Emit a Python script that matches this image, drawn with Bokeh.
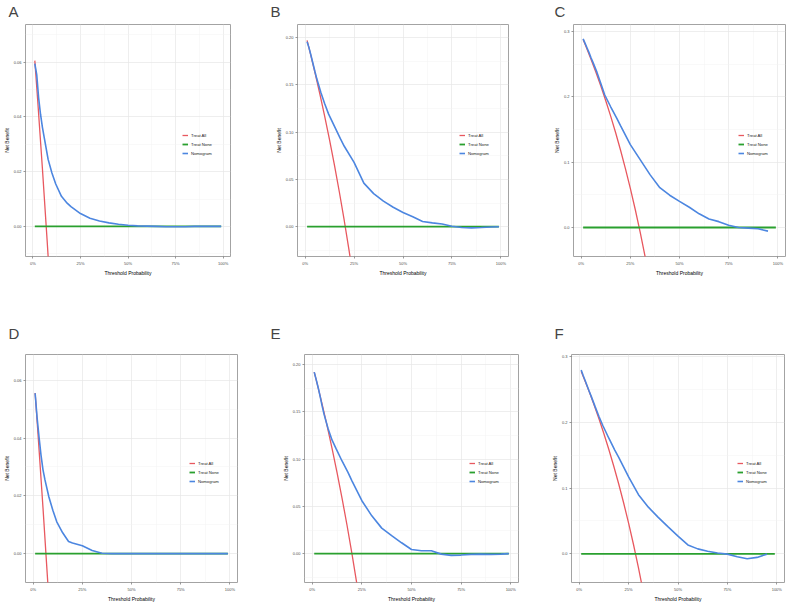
from bokeh.plotting import figure
from bokeh.models import Range1d, FixedTicker, Legend, LegendItem
from bokeh.layouts import column, row
from bokeh.embed import file_html
from bokeh.resources import INLINE

# ---------------- data ----------------
panel_letters = ["A", "B", "C", "D", "E", "F"]
series_names = ["Treat All", "Treat None", "Nomogram"]
x_ticks = [0, 0.25, 0.5, 0.75, 1.0]
x_tick_labels = ["0%", "25%", "50%", "75%", "100%"]
x_title = "Threshold Probability"
y_title = "Net Benefit"

thresholds = [0.01, 0.02, 0.03, 0.04, 0.05, 0.06, 0.08, 0.10, 0.12, 0.15, 0.18, 0.20,
              0.25, 0.30, 0.35, 0.40, 0.45, 0.50, 0.55, 0.60, 0.65, 0.70, 0.75, 0.80,
              0.85, 0.90, 0.95, 0.99]
thresholds_short = thresholds[:-1]   # panels C and F stop at 0.95

nomogram_A = [0.0595, 0.0555, 0.0470, 0.0410, 0.0362, 0.0323, 0.0245, 0.0195, 0.0155, 0.0110,
              0.0085, 0.0072, 0.0047, 0.0030, 0.0020, 0.0013, 0.0008, 0.0004, 0.0002, 0.0001,
              0.0, -0.0001, -0.0001, -0.0001, 0.0, 0.0, 0.0, 0.0]
nomogram_B = [0.1955, 0.189, 0.181, 0.1725, 0.164, 0.156, 0.142, 0.130, 0.119, 0.106,
              0.093, 0.085, 0.068, 0.046, 0.035, 0.027, 0.0205, 0.0150, 0.0105, 0.0055,
              0.0040, 0.0028, 0.0005, -0.0008, -0.0012, -0.0008, -0.0003, 0.0]
nomogram_C = [0.289, 0.282, 0.275, 0.268, 0.260, 0.253, 0.238, 0.2205, 0.203, 0.185,
              0.168, 0.156, 0.127, 0.104, 0.081, 0.061, 0.0495, 0.040, 0.031, 0.021,
              0.013, 0.009, 0.0035, 0.0, -0.001, -0.002, -0.0055]
nomogram_D = [0.0555, 0.0470, 0.0402, 0.0340, 0.0290, 0.0255, 0.0196, 0.0150, 0.0110, 0.0072,
              0.0042, 0.0037, 0.0027, 0.0011, 0.0001, 0.0, 0.0, 0.0, 0.0, 0.0,
              0.0, 0.0, 0.0, 0.0, 0.0, 0.0, 0.0, 0.0]
nomogram_E = [0.192, 0.184, 0.1755, 0.166, 0.156, 0.147, 0.132, 0.120, 0.111, 0.098,
              0.086, 0.077, 0.056, 0.040, 0.027, 0.019, 0.0115, 0.0044, 0.0030, 0.0030,
              -0.0005, -0.0018, -0.0015, -0.0008, -0.0005, -0.0008, -0.0005, 0.0]
nomogram_F = [0.280, 0.2715, 0.264, 0.256, 0.248, 0.2405, 0.2245, 0.209, 0.195, 0.176,
              0.158, 0.147, 0.117, 0.090, 0.071, 0.0555, 0.041, 0.027, 0.0135, 0.0075,
              0.0040, 0.0012, -0.0005, -0.0045, -0.0075, -0.0055, -0.0005]

treat_all_thresholds = [0.01, 0.025, 0.05, 0.075, 0.10, 0.125, 0.15, 0.175, 0.20, 0.225,
                        0.25, 0.275, 0.30, 0.325, 0.35]
treat_all_A = [0.0606, 0.0462, 0.0211, -0.0054, -0.0333, -0.0629, -0.0941, -0.1273, -0.1625,
               -0.2000, -0.2400, -0.2828, -0.3286, -0.3778, -0.4308]
treat_all_B = [0.1970, 0.1846, 0.1632, 0.1405, 0.1167, 0.0914, 0.0647, 0.0364, 0.0063,
               -0.0258, -0.0600, -0.0966, -0.1357, -0.1778, -0.2231]
treat_all_C = [0.2879, 0.2769, 0.2579, 0.2378, 0.2167, 0.1943, 0.1706, 0.1455, 0.1188,
               0.0903, 0.0600, 0.0276, -0.0071, -0.0444, -0.0846]
treat_all_D = [0.0556, 0.0410, 0.0158, -0.0108, -0.0389, -0.0686, -0.1000, -0.1333, -0.1688,
               -0.2065, -0.2467, -0.2897, -0.3357, -0.3852, -0.4385]
treat_all_E = [0.1919, 0.1795, 0.1579, 0.1351, 0.1111, 0.0857, 0.0588, 0.0303, 0.0,
               -0.0323, -0.0667, -0.1034, -0.1429, -0.1852, -0.2308]
treat_all_F = [0.2778, 0.2667, 0.2474, 0.2270, 0.2056, 0.1829, 0.1588, 0.1333, 0.1063,
               0.0774, 0.0467, 0.0138, -0.0214, -0.0593, -0.1000]

treat_none_thresholds = [0.01, 0.99]
treat_none_nb = [0.0, 0.0]

y_ticks_small = [0.0, 0.02, 0.04, 0.06]
y_labels_small = ["0.00", "0.02", "0.04", "0.06"]
y_ticks_mid = [0.0, 0.05, 0.10, 0.15, 0.20]
y_labels_mid = ["0.00", "0.05", "0.10", "0.15", "0.20"]
y_ticks_big = [0.0, 0.1, 0.2, 0.3]
y_labels_big = ["0.0", "0.1", "0.2", "0.3"]

# ---------------- style ----------------
FONT = "Liberation Sans"
RED = "#E8585F"
GREEN = "#2AA02F"
BLUE = "#4C86E0"


def minor_between(ticks, lo, hi):
    step = ticks[1] - ticks[0]
    out = []
    v = ticks[0] - step / 2
    while v >= lo:
        out.append(v)
        v -= step
    v = ticks[0] + step / 2
    while v <= hi:
        out.append(v)
        v += step
    return out


def make_panel(letter, thr, nomo, treat_all, yticks, ylabels, yr, width, height,
               bl, br, bt, bb, title_offset, title_standoff, legend_xy):
    p = figure(width=width, height=height, output_backend="svg", toolbar_location=None,
               x_range=Range1d(-0.039, 1.039), y_range=Range1d(*yr),
               min_border_left=bl, min_border_right=br, min_border_top=bt,
               min_border_bottom=bb, background_fill_color="white",
               border_fill_color="white")
    p.title.text = letter
    p.title.text_font = FONT
    p.title.text_font_size = "15px"
    p.title.text_font_style = "normal"
    p.title.align = "left"
    p.title.vertical_align = "top"
    p.title.offset = title_offset
    p.title.standoff = title_standoff

    p.outline_line_color = "#A3A3A3"
    p.outline_line_width = 1

    p.xaxis.ticker = FixedTicker(ticks=x_ticks, minor_ticks=minor_between(x_ticks, -0.039, 1.039))
    p.xaxis.major_label_overrides = {t: l for t, l in zip(x_ticks, x_tick_labels)}
    p.yaxis.ticker = FixedTicker(ticks=yticks, minor_ticks=minor_between(yticks, yr[0], yr[1]))
    p.yaxis.major_label_overrides = {t: l for t, l in zip(yticks, ylabels)}
    p.xaxis.axis_label = x_title
    p.yaxis.axis_label = y_title
    for ax in (p.xaxis, p.yaxis):
        ax.axis_line_color = None
        ax.major_tick_line_color = "#555555"
        ax.major_tick_line_width = 0.6
        ax.major_tick_out = 2
        ax.major_tick_in = 0
        ax.minor_tick_line_color = None
        ax.major_label_text_font = FONT
        ax.major_label_text_font_size = "4px"
        ax.major_label_text_color = "#4D4D4D"
        ax.major_label_standoff = 0
        ax.axis_label_text_font = FONT
        ax.axis_label_text_font_size = "5px"
        ax.axis_label_text_font_style = "normal"
        ax.axis_label_text_color = "#000000"
        ax.axis_label_standoff = 1
    for g in (p.xgrid, p.ygrid):
        g.grid_line_color = "#E6E6E6"
        g.grid_line_width = 0.7
        g.minor_grid_line_color = "#F2F2F2"
        g.minor_grid_line_width = 0.5

    r_all = p.line(treat_all_thresholds, treat_all, line_color=RED, line_width=1.3)
    r_none = p.line(treat_none_thresholds, treat_none_nb, line_color=GREEN, line_width=1.8)
    r_nomo = p.line(thr, nomo, line_color=BLUE, line_width=1.6)

    legend = Legend(items=[LegendItem(label=series_names[0], renderers=[r_all]),
                           LegendItem(label=series_names[1], renderers=[r_none]),
                           LegendItem(label=series_names[2], renderers=[r_nomo])],
                    location=legend_xy)
    legend.label_text_font = FONT
    legend.label_text_font_size = "4.2px"
    legend.label_text_color = "#222222"
    legend.glyph_width = 6
    legend.glyph_height = 6
    legend.label_height = 6
    legend.label_width = 10
    legend.label_standoff = 3
    legend.spacing = 3
    legend.padding = 0
    legend.margin = 0
    legend.border_line_color = None
    legend.background_fill_alpha = 0
    p.add_layout(legend)
    return p


TOP_H, BOT_H = 310, 294

pA = make_panel(panel_letters[0], thresholds, nomogram_A, treat_all_A, y_ticks_small, y_labels_small,
                (-0.011, 0.0738), 258, TOP_H, 19, 28, 23, 54, -17, 5, (157, 100))
pB = make_panel(panel_letters[1], thresholds, nomogram_B, treat_all_B, y_ticks_mid, y_labels_mid,
                (-0.0315, 0.2137), 264, TOP_H, 39, 14, 23, 54, -27, 5, (162, 100))
pC = make_panel(panel_letters[2], thresholds_short, nomogram_C, treat_all_C, y_ticks_big, y_labels_big,
                (-0.0444, 0.311), 264, TOP_H, 51, 1, 23, 54, -19, 5, (165, 100))
pD = make_panel(panel_letters[3], thresholds, nomogram_D, treat_all_D, y_ticks_small, y_labels_small,
                (-0.010, 0.0689), 260, BOT_H, 24, 23, 44, 14, -17, 21, (164, 98))
pE = make_panel(panel_letters[4], thresholds, nomogram_E, treat_all_E, y_ticks_mid, y_labels_mid,
                (-0.0305, 0.2106), 264, BOT_H, 44, 6, 44, 14, -34, 21, (165, 98))
pF = make_panel(panel_letters[5], thresholds_short, nomogram_F, treat_all_F, y_ticks_big, y_labels_big,
                (-0.0437, 0.3035), 262, BOT_H, 47, 2, 44, 14, -17, 21, (166, 98))

layout = column(row(pA, pB, pC), row(pD, pE, pF))

open("out.html", "w").write(file_html(layout, INLINE))
